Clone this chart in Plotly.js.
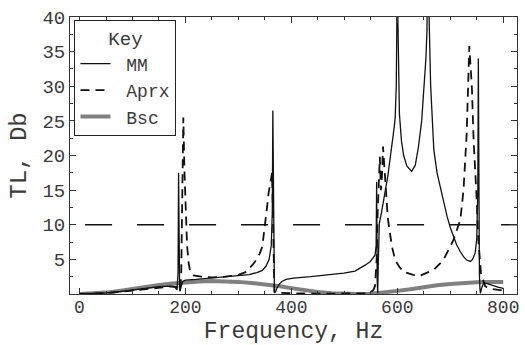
<!DOCTYPE html>
<html>
<head>
<meta charset="utf-8">
<script src="https://cdn.plot.ly/plotly-3.0.1.min.js"></script>
<style>html,body{margin:0;padding:0;background:#fff;}#chart{width:525px;height:345px;}</style>
</head>
<body>
<div id="chart"></div>
<script>
// MM (solid)
const mmFreq = [0,25,50,75,100,125,150,170,180,184,186,187,188,189,190,192,195,200,220,250,280,300,320,335,345,352,358,362,364,365,366,367,368,370,373,378,382,390,404,436,467,499,520,530,540,549,555,558,560,561,562,563,564,565,566,570,577,582,587,591,594,596,598,599,600,601,602,604,608,612,618,627,634,640,646,651,654,656,657,658,660,663,669,675,681,688,694,700,706,712,719,725,731,738,742,747,750,752,753,754,755,756,757,759,763,770,780,790,800];
const mmTL = [0,0.03,0.15,0.35,0.6,0.85,1.05,1.15,1.0,0.6,3,17.5,5,0.6,0.4,1.2,1.8,2.0,2.1,2.3,2.45,2.6,2.8,3.1,3.4,4.0,5.0,7,12,26.5,10,2,0.2,0.3,0.9,1.5,1.8,2.1,2.3,2.5,2.75,3.0,3.3,3.7,4.2,4.7,5.3,5.6,7,16.2,2,0.1,4,9.5,10.2,11.7,14.8,17,19.9,22,24,25.5,30,38,55,40,33,26,22,20,18.5,17.7,18.6,21.3,25,30,34,38,45,55,40,30,20.8,17.5,15.5,13,11.2,9.6,8.3,7.1,6.1,5.4,4.9,4.7,5.0,5.9,8,15,34,12,3,0.8,0.1,0.8,1.6,1.5,1.2,1.0,0.8];
// Aprx (dashed)
const aprxFreq = [0,50,100,150,175,185,190,192,194,196,198,200,203,206,209,215,230,250,275,300,315,330,340,345,350,354,357,361,363.5,365,366,367,368,370,400,450,500,540,550,555,558,561,563,565,567,569,571,573,575,578,582,587,591,596,604,612,630,643,669,687,706,719,725,731,736,741,744,749,753,758,766,780,800];
const aprxTL = [0,0.12,0.5,0.9,1.1,1.0,0.5,3,12,25.5,18,13.6,7,4.5,3.2,2.7,2.5,2.4,2.5,2.75,3.2,4.5,5.8,6.8,9.7,12.5,14.6,16.5,17.5,12,5,1,0.3,0.2,0.1,0.05,0.05,0.1,0.3,0.6,1.2,5,12,18,19.8,15,17,21.3,19,15,11,8.3,6.5,4.9,3.9,3.2,2.75,2.65,3.5,4.9,7.8,10.7,15,23.2,35.8,29.5,22.3,15,7.8,3,1.1,0.7,0.5];
// Bsc (thick gray)
const bscFreq = [0,25,50,75,100,125,150,175,200,225,250,275,300,325,350,375,400,425,450,475,500,525,550,575,600,625,650,675,700,725,750,775,800];
const bscTL = [0,0.05,0.2,0.45,0.75,1.05,1.3,1.5,1.7,1.82,1.88,1.85,1.75,1.6,1.4,1.15,0.85,0.55,0.3,0.12,0.02,0,0.05,0.2,0.45,0.7,1.0,1.25,1.45,1.6,1.7,1.75,1.75];
// reference level line
const refFreq = [10.5, 826];
const refTL = [10, 10];
// ticks
const xTicks = [0,200,400,600,800];
const yTicks = [5,10,15,20,25,30,35,40];
// legend labels
const seriesNames = ['MM', 'Aprx', 'Bsc'];

const FONT = 'Liberation Mono, Courier New, monospace';
const TXT = '#3a3a3a';
const NB = '\u00a0';

const traces = [
  {x: bscFreq, y: bscTL, type: 'scatter', mode: 'lines', name: NB + seriesNames[2], legendrank: 3,
   line: {color: '#808080', width: 4}},
  {x: refFreq, y: refTL, type: 'scatter', mode: 'lines', showlegend: false,
   line: {color: '#111', width: 1.3, dash: '27px,25px'}},
  {x: aprxFreq, y: aprxTL, type: 'scatter', mode: 'lines', name: NB + seriesNames[1], legendrank: 2,
   line: {color: '#111', width: 1.8, dash: '9px,6px'}},
  {x: mmFreq, y: mmTL, type: 'scatter', mode: 'lines', name: NB + seriesNames[0], legendrank: 1,
   line: {color: '#111', width: 1.3}}
];

const axisCommon = {
  showline: true, linecolor: '#333', linewidth: 1, mirror: 'allticks',
  ticks: 'inside', ticklen: 6, tickcolor: '#333', tickwidth: 1,
  showgrid: false, zeroline: false
};

const layout = {
  width: 525, height: 345,
  margin: {l: 70, r: 8, t: 17, b: 51},
  paper_bgcolor: '#fff', plot_bgcolor: '#fff',
  showlegend: true,
  xaxis: Object.assign({}, axisCommon, {
    range: [-18, 826], tickmode: 'array', tickvals: xTicks, ticktext: xTicks.map(String),
    tickfont: {family: FONT, size: 18, color: TXT}, ticklabelstandoff: -4,
    minor: {dtick: 50, tick0: 0, ticks: 'inside', ticklen: 3, tickcolor: '#333'},
    title: {text: 'Frequency, Hz', font: {family: FONT, size: 23, color: TXT}, standoff: 7}
  }),
  yaxis: Object.assign({}, axisCommon, {
    range: [0, 40], tickmode: 'array', tickvals: yTicks, ticktext: yTicks.map(String),
    tickfont: {family: FONT, size: 19, color: TXT},
    minor: {dtick: 2.5, tick0: 0, ticks: 'inside', ticklen: 3, tickcolor: '#333'},
    title: {text: 'TL, Db', font: {family: FONT, size: 24, color: TXT}, standoff: 8}
  }),
  legend: {
    x: 0.01, y: 0.99, xanchor: 'left', yanchor: 'top',
    bgcolor: '#fff', bordercolor: '#222', borderwidth: 1,
    font: {family: FONT, size: 18, color: TXT},
    title: {text: 'Key', side: 'top center', font: {family: FONT, size: 19, color: TXT}},
    tracegroupgap: 0
  }
};

Plotly.newPlot('chart', traces, layout, {staticPlot: true, displayModeBar: false});
</script>
</body>
</html>
